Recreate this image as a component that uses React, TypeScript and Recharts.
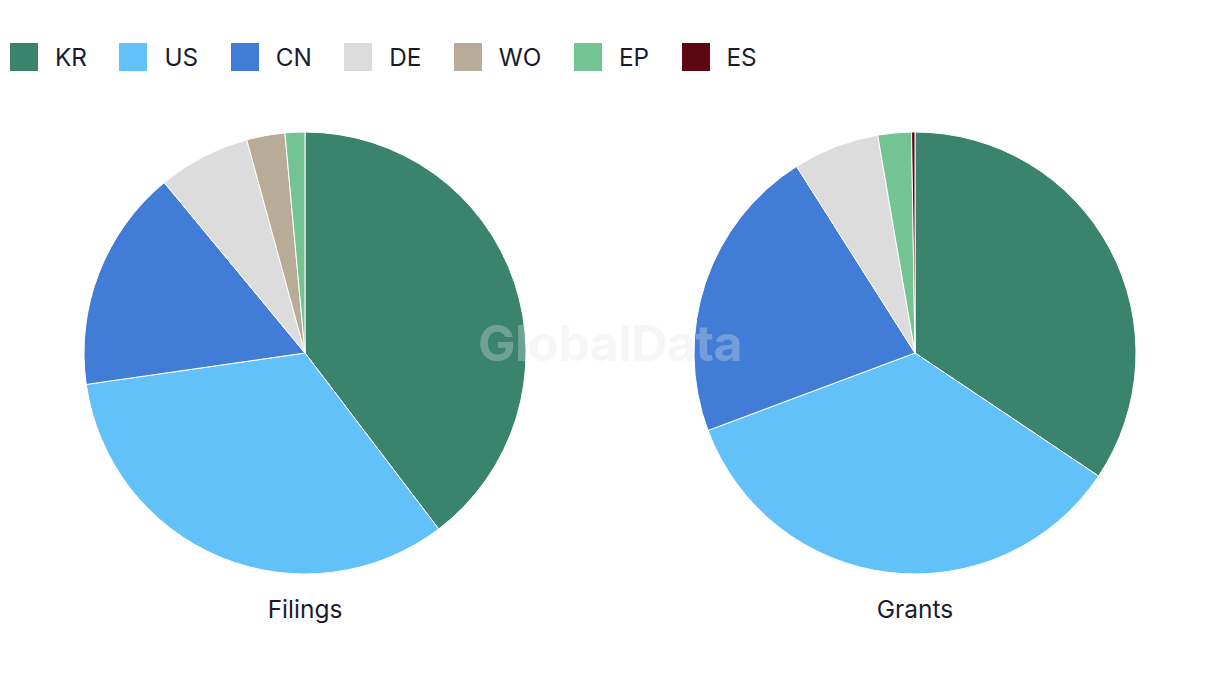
import React from 'react';
import { PieChart, Pie, Cell } from 'recharts';

const categories = ['KR', 'US', 'CN', 'DE', 'WO', 'EP', 'ES'];
const colors = ['#3a836d', '#62c1f9', '#417cd6', '#dcdcdc', '#b8ab97', '#74c493', '#5e0610'];
const filings = [39.7, 33.1, 16.3, 6.75, 2.8, 1.45, 0];
const grants = [34.4, 34.9, 21.7, 6.3, 0, 2.45, 0.25];
const pieTitles = ['Filings', 'Grants'];

const filingsData = categories.map((name, i) => ({ name, value: filings[i] }));
const grantsData = categories.map((name, i) => ({ name, value: grants[i] }));

const textColor = '#1b1b2f';
const font = 'Inter, "Noto Sans", sans-serif';

export default function App() {
  return (
    <div style={{ position: 'absolute', top: 0, left: 0, width: 1220, height: 686, background: '#fff', fontFamily: font, overflow: 'hidden' }}>
      {/* legend */}
      <div style={{ position: 'absolute', top: 43, left: 10, display: 'flex', alignItems: 'center' }}>
        {categories.map((c, i) => (
          <div key={c} style={{ display: 'flex', alignItems: 'center', marginRight: 32.5 }}>
            <div style={{ width: 28, height: 28, background: colors[i] }} />
            <span style={{ marginLeft: 17, fontSize: 24.3, color: textColor, lineHeight: '28px' }}>{c}</span>
          </div>
        ))}
      </div>

      <div style={{ position: 'absolute', top: 0, left: 0 }}>
        <PieChart width={1220} height={686} margin={{ top: 0, right: 0, bottom: 0, left: 0 }}>
          <Pie
            data={filingsData}
            dataKey="value"
            nameKey="name"
            cx={305}
            cy={353}
            outerRadius={221}
            startAngle={90}
            endAngle={-270}
            stroke="#fff"
            strokeWidth={1}
            isAnimationActive={false}
          >
            {filingsData.map((d, i) => (
              <Cell key={d.name} fill={colors[i]} />
            ))}
          </Pie>
          <Pie
            data={grantsData}
            dataKey="value"
            nameKey="name"
            cx={915}
            cy={353}
            outerRadius={221}
            startAngle={90}
            endAngle={-270}
            stroke="#fff"
            strokeWidth={1}
            isAnimationActive={false}
          >
            {grantsData.map((d, i) => (
              <Cell key={d.name} fill={colors[i]} />
            ))}
          </Pie>
        </PieChart>
      </div>

      {pieTitles.map((t, i) => (
        <div
          key={t}
          style={{ position: 'absolute', top: 594, left: i === 0 ? 205 : 815, width: 200, textAlign: 'center', fontSize: 24.5, color: textColor }}
        >
          {t}
        </div>
      ))}

      {/* watermark */}
      <div
        style={{ position: 'absolute', top: 313, left: 0, width: 1220, textAlign: 'center', fontSize: 50, fontWeight: 700, color: 'rgba(228,228,228,0.32)', pointerEvents: 'none', letterSpacing: -0.5 }}
      >
        GlobalData
      </div>
    </div>
  );
}
